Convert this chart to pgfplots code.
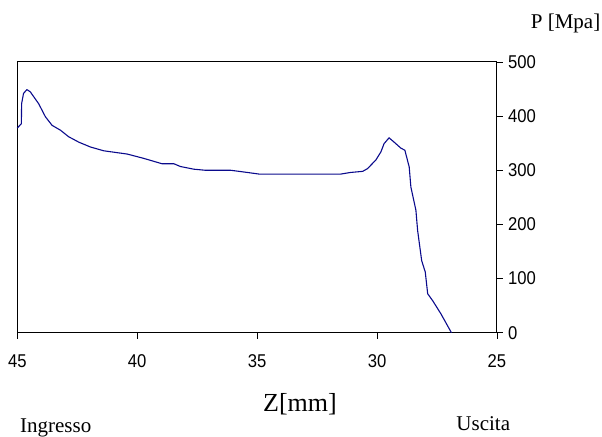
\documentclass[border=0pt]{standalone}
\usepackage{pgfplots}
\pgfplotsset{compat=1.18}
\usepackage{fontspec}
\setmainfont{Liberation Serif}
\newfontfamily\tickfont[FakeStretch=0.9]{Liberation Sans}
\usetikzlibrary{calc}
\definecolor{curve}{RGB}{10,10,140}
\begin{document}
\begin{tikzpicture}
\begin{axis}[
  name=ax,
  scale only axis,
  width=479.7bp, height=270.7bp,
  xmin=25, xmax=45, ymin=0, ymax=500,
  x dir=reverse,
  xtick={25,30,35,40,45},
  ytick={0,100,200,300,400,500},
  xtick pos=bottom, ytick pos=right,
  tick align=outside,
  major tick length=6bp,
  axis line style={line width=1bp, black},
  tick style={line width=0.8bp, black},
  /pgf/number format/assume math mode=true,
  ticklabel style={font=\tickfont\fontsize{18.5bp}{21bp}\selectfont, inner sep=0pt},
  xticklabel style={anchor=north, yshift=-16bp},
  yticklabel style={anchor=west, xshift=5bp},
  clip=false,
]
\addplot[curve, line width=1.1bp, line join=round] coordinates {
(45,378) (44.83,386) (44.82,423) (44.74,442) (44.6,449) (44.46,445)
(44.11,423) (43.83,399) (43.55,383) (43.2,374) (42.86,362) (42.44,352)
(41.95,343) (41.4,336) (40.42,330) (39.73,322) (38.96,312) (38.47,312)
(38.2,307) (37.64,302) (37.15,300) (36.1,300) (35.41,296) (34.92,293)
(31.51,293) (31.1,296) (30.6,298) (30.4,303) (30.05,319) (29.84,334)
(29.71,349) (29.5,360) (29.29,352) (29.01,341) (28.84,337) (28.66,306)
(28.59,269) (28.38,226) (28.31,189) (28.14,133) (27.99,112) (27.89,72)
(27.68,59) (27.34,35) (26.9,0)
};
\end{axis}
\node[anchor=base, font=\fontsize{26bp}{30bp}\selectfont, inner sep=0pt] at ($(ax.south west)+(282.7bp,-79bp)$) {Z[mm]};
\node[anchor=base, font=\fontsize{21bp}{25bp}\selectfont, inner sep=0pt] at ($(ax.south west)+(38.4bp,-99.3bp)$) {Ingresso};
\node[anchor=base, font=\fontsize{21bp}{25bp}\selectfont, inner sep=0pt] at ($(ax.south west)+(466bp,-97.3bp)$) {Uscita};
\node[anchor=base west, font=\fontsize{21bp}{25bp}\selectfont, inner sep=0pt] at ($(ax.south west)+(513.4bp,303.7bp)$) {P [Mpa]};
\pgfresetboundingbox
\path[use as bounding box] ($(ax.south west)+(-17.3bp,-104.3bp)$) rectangle ++(602bp,437bp);
\end{tikzpicture}
\end{document}
